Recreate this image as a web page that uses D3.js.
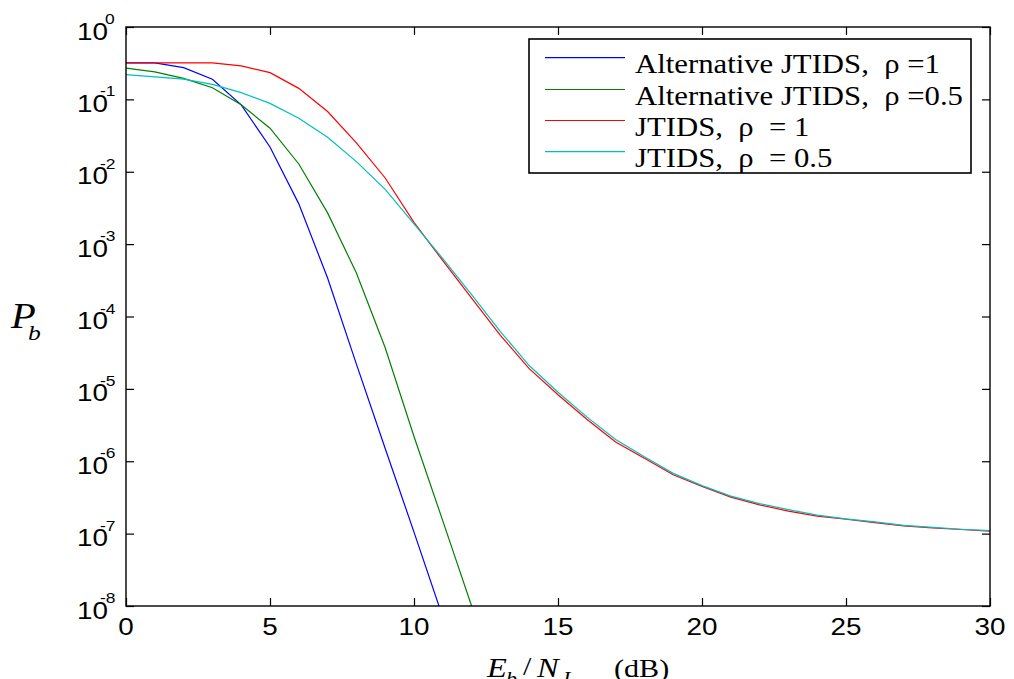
<!DOCTYPE html>
<html><head><meta charset="utf-8">
<script src="https://cdn.jsdelivr.net/npm/d3@7"></script>
<style>html,body{margin:0;padding:0;background:#fff;}svg{display:block;} text{white-space:pre;}</style>
</head><body>
<svg id="c" width="1014" height="679"></svg>
<script>
// ---- data ----
const xRed = d3.range(0, 31);
const red = [0.32,0.32,0.32,0.32,0.29,0.234,0.142,0.068,0.025,0.0082,0.002,5.9e-4,1.8e-4,5.5e-5,1.9e-5,8.3e-6,3.8e-6,1.85e-6,1.1e-6,6.5e-7,4.5e-7,3.2e-7,2.5e-7,2.05e-7,1.75e-7,1.58e-7,1.42e-7,1.28e-7,1.2e-7,1.14e-7,1.08e-7];
const cyan = [0.22,0.205,0.19,0.161,0.124,0.088,0.055,0.030,0.0138,0.0057,0.0019,6.3e-4,2.0e-4,6.2e-5,2.1e-5,9e-6,4.1e-6,2e-6,1.15e-6,6.8e-7,4.6e-7,3.3e-7,2.6e-7,2.15e-7,1.8e-7,1.6e-7,1.45e-7,1.3e-7,1.22e-7,1.15e-7,1.1e-7];
const xBlue = d3.range(0, 12);
const blue = [0.32,0.32,0.274,0.19,0.084,0.022,0.0036,3.4e-4,2.2e-5,1.5e-6,1.05e-7,7e-9];
const xGreen = d3.range(0, 13);
const green = [0.27,0.24,0.195,0.145,0.084,0.040,0.0128,0.0027,4e-4,3.7e-5,2.2e-6,1.5e-7,1e-8];
const seriesNames = ["Alternative JTIDS,  \u03c1 =1", "Alternative JTIDS,  \u03c1 =0.5", "JTIDS,  \u03c1  = 1", "JTIDS,  \u03c1  = 0.5"];
const xTicks = [0,5,10,15,20,25,30];
const yExps = [0,-1,-2,-3,-4,-5,-6,-7,-8];

// ---- layout ----
const svg = d3.select("#c");
const L = 126, R = 990, T = 27, B = 606;
const SX = 1.16; // horizontal stretch of the original figure's text
const x = d3.scaleLinear().domain([0,30]).range([L,R]);
const y = d3.scaleLog().domain([1,1e-8]).range([T,B]);

svg.append("defs").append("clipPath").attr("id","clip")
  .append("rect").attr("x",L).attr("y",T).attr("width",R-L).attr("height",B-T);

const series = [
  {xs:xBlue, ys:blue, color:"#0000ff"},
  {xs:xGreen, ys:green, color:"#008000"},
  {xs:xRed, ys:red, color:"#ff0000"},
  {xs:xRed, ys:cyan, color:"#00bfbf"}
];
const line = d3.line().x(d=>x(d[0])).y(d=>y(d[1]));
const g = svg.append("g").attr("clip-path","url(#clip)");
series.forEach(s=>{
  g.append("path").datum(s.xs.map((v,i)=>[v,s.ys[i]]))
    .attr("d",line).attr("fill","none").attr("stroke",s.color).attr("stroke-width",1.2);
});

// ---- axes (ticks inside, all four sides) ----
function styleAx(sel){ sel.select(".domain").remove(); sel.selectAll("line").attr("stroke","#000").attr("stroke-width",1.2); }
svg.append("g").attr("transform",`translate(0,${B})`).call(d3.axisBottom(x).tickValues(xTicks).tickSize(-8).tickFormat("")).call(styleAx);
svg.append("g").attr("transform",`translate(0,${T})`).call(d3.axisTop(x).tickValues(xTicks).tickSize(-8).tickFormat("")).call(styleAx);
const yTickVals = yExps.map(e=>Math.pow(10,e));
svg.append("g").attr("transform",`translate(${L},0)`).call(d3.axisLeft(y).tickValues(yTickVals).tickSize(-8).tickFormat("")).call(styleAx);
svg.append("g").attr("transform",`translate(${R},0)`).call(d3.axisRight(y).tickValues(yTickVals).tickSize(-8).tickFormat("")).call(styleAx);
svg.append("rect").attr("x",L).attr("y",T).attr("width",R-L).attr("height",B-T)
  .attr("fill","none").attr("stroke","#000").attr("stroke-width",1.4);

function stxt(px, py, str, opts){
  const t = svg.append("text").attr("transform",`translate(${px},${py}) scale(${SX},1)`)
    .attr("font-family", opts.family || "Liberation Sans, Arial, sans-serif")
    .attr("font-size", opts.size).attr("fill","#000")
    .attr("text-anchor", opts.anchor || "start")
    .attr("xml:space","preserve");
  if (opts.style) t.attr("font-style", opts.style);
  t.text(str);
  return t;
}

// x tick labels
xTicks.forEach(v=> stxt(x(v), 635, String(v), {size:24, anchor:"middle"}));
// y tick labels 10^e
yExps.forEach(e=>{
  const ty = y(Math.pow(10,e));
  stxt(108, ty+12.5, "10", {size:24, anchor:"end"});
  const es = e===0 ? "0" : "-" + Math.abs(e);
  stxt(e===0 ? 105 : 100, ty-3, es, {size:15});
});

// axis titles
const serif = "Liberation Serif, Times New Roman, serif";
stxt(11, 328, "P", {size:35, family:serif, style:"italic"});
stxt(28, 340, "b", {size:22, family:serif, style:"italic"});

stxt(487, 677, "E", {size:28, family:serif, style:"italic"});
stxt(506, 685, "b", {size:19, family:serif, style:"italic"});
stxt(523, 675, "/", {size:26, family:serif});
stxt(537, 677, "N", {size:28, family:serif, style:"italic"});
stxt(563, 685, "I", {size:19, family:serif, style:"italic"});
stxt(614, 677, "(dB)", {size:26, family:serif});

// ---- legend ----
svg.append("rect").attr("x",529).attr("y",39).attr("width",442).attr("height",134)
  .attr("fill","#fff").attr("stroke","#000").attr("stroke-width",1.6);
const legY = [57.7, 89.5, 120.5, 151.7];
series.forEach((s,i)=>{
  svg.append("line").attr("x1",545).attr("x2",625).attr("y1",legY[i]).attr("y2",legY[i])
    .attr("stroke",s.color).attr("stroke-width",1.2);
  stxt(635, legY[i]+15, seriesNames[i], {size:26.5, family:serif});
});
</script>
</body></html>
